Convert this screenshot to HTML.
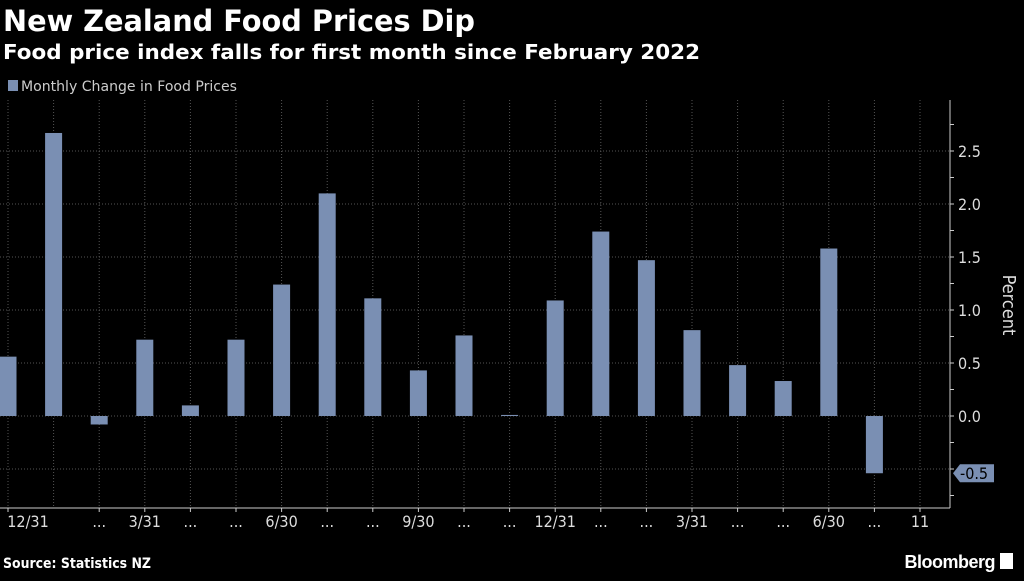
<!DOCTYPE html>
<html><head><meta charset="utf-8"><style>
body{margin:0;background:#000;width:1024px;height:576px;overflow:hidden;font-family:"Liberation Sans",sans-serif;}
</style></head><body>
<svg width="1024" height="576" xmlns="http://www.w3.org/2000/svg">
<text x="3" y="31" fill="#fff" font-size="29" font-weight="bold" font-family="DejaVu Sans, sans-serif" textLength="472" lengthAdjust="spacingAndGlyphs">New Zealand Food Prices Dip</text>
<text x="3" y="59" fill="#fff" font-size="20" font-weight="bold" font-family="DejaVu Sans, sans-serif" textLength="697" lengthAdjust="spacingAndGlyphs">Food price index falls for first month since February 2022</text>
<rect x="8" y="80" width="10" height="11" fill="#7a8fb3"/>
<text x="21" y="91" fill="#ccc" font-size="14" font-family="DejaVu Sans Condensed, Liberation Sans, sans-serif" font-stretch="condensed" textLength="216" lengthAdjust="spacingAndGlyphs">Monthly Change in Food Prices</text>
<g id="grid"></g><g id="bars"></g><g id="axis"></g>
<text x="3" y="568" fill="#fff" font-size="14" font-weight="bold" font-family="DejaVu Sans, sans-serif" textLength="148" lengthAdjust="spacingAndGlyphs">Source: Statistics NZ</text>
<text x="995" y="568" text-anchor="end" fill="#fff" font-size="18" font-weight="bold" font-family="Liberation Sans, sans-serif" letter-spacing="-0.5">Bloomberg</text>
<rect x="1000" y="553" width="13" height="16" fill="#fff"/>
</svg>
<script>
const values=[0.56,2.67,-0.08,0.72,0.10,0.72,1.24,2.10,1.11,0.43,0.76,0.01,1.09,1.74,1.47,0.81,0.48,0.33,1.58,-0.54];
const xLabels=["12/31","","...","3/31","...","...","6/30","...","...","9/30","...","...","12/31","...","...","3/31","...","...","6/30","...","11"];
const yTicks=[-0.5,0,0.5,1,1.5,2,2.5];
const NS="http://www.w3.org/2000/svg";
const x0=8,step=45.6,axisX=950,bw=17;
const xs=i=>x0+i*step;
const ys=v=>416-v*106;
function mk(t,a,p){const e=document.createElementNS(NS,t);for(const k in a)e.setAttribute(k,a[k]);document.getElementById(p).appendChild(e);return e;}
for(let i=0;i<=20;i++){
 const g=mk('line',{x1:xs(i),x2:xs(i),y1:100,y2:508,stroke:'#555','stroke-dasharray':'1,2'},'grid');
 
 
}
yTicks.forEach(v=>{
 const g=mk('line',{x1:0,x2:axisX,y1:ys(v),y2:ys(v),stroke:'#555','stroke-dasharray':'1,2'},'grid');
 
 
});
values.forEach((v,i)=>{
 const y=Math.min(ys(v),ys(0)),h=Math.max(Math.abs(ys(v)-ys(0)),1);
 const r=mk('rect',{x:xs(i)-bw/2,y:y,width:bw,height:h,fill:'#7a8fb3'},'bars');
 
 
});
let a=mk('line',{x1:axisX,x2:axisX,y1:100,y2:508,stroke:'#ccc'},'axis');

a=mk('line',{x1:0,x2:axisX,y1:508,y2:508,stroke:'#ccc'},'axis');

for(let v=-0.75;v<=2.8;v+=0.25){
 mk('line',{x1:axisX,x2:axisX+4,y1:ys(v),y2:ys(v),stroke:'#ccc'},'axis');
}
yTicks.forEach(v=>{
 if(v===-0.5)return;
 const t=mk('text',{x:axisX+8,y:ys(v)+6,fill:'#ddd','font-size':'16','font-family':'DejaVu Sans Condensed, Liberation Sans, sans-serif'},'axis');
 t.textContent=v.toFixed(1);
 
 
});
const last=values[values.length-1];
let p=mk('path',{d:`M${axisX+3} ${ys(last)} l7 -9 h34 v18 h-34 z`,fill:'#7a8fb3'},'axis');

let lt=mk('text',{x:axisX+10,y:ys(last)+6,fill:'#000','font-size':'16','font-family':'DejaVu Sans Condensed, Liberation Sans, sans-serif'},'axis');
lt.textContent=(Math.round(last*2)/2).toFixed(1);

xLabels.forEach((s,i)=>{
 if(!s)return;
 mk('line',{x1:xs(i),x2:xs(i),y1:508,y2:512,stroke:'#ccc'},'axis');
 const t=mk('text',{x:i===0?xs(0)+20:xs(i),y:527,fill:'#ddd','font-size':'16','text-anchor':'middle','font-family':'DejaVu Sans Condensed, Liberation Sans, sans-serif'},'axis');
 t.textContent=s;
 
 
});
const yt=mk('text',{x:1003,y:305,fill:'#ddd','font-size':'18','text-anchor':'middle',transform:'rotate(90 1003 305)','font-family':'DejaVu Sans Condensed, Liberation Sans, sans-serif'},'axis');
yt.textContent='Percent';


</script>
</body></html>
